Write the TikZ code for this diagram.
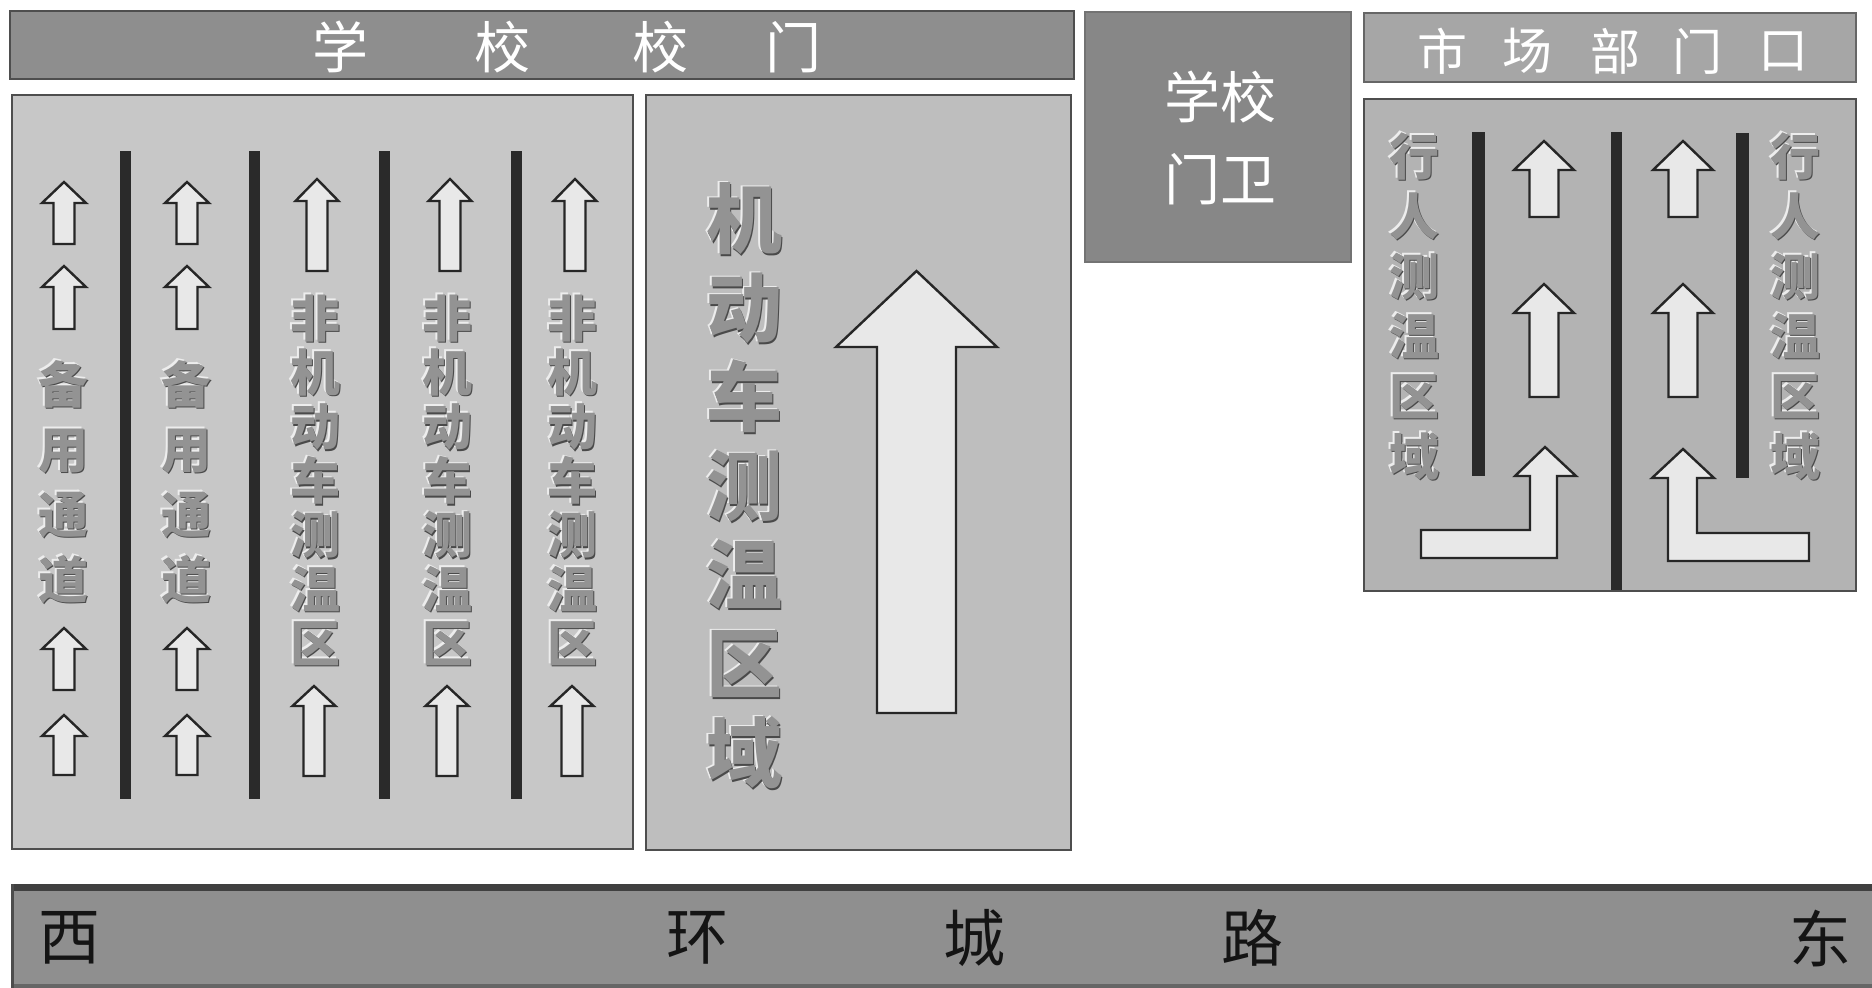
\documentclass[tikz,border=0pt]{standalone}
\usepackage{fontspec}
\newfontfamily\cjk{Noto Sans CJK SC}
\usetikzlibrary{calc}
\definecolor{banA}{HTML}{8E8E8E}
\definecolor{banB}{HTML}{A6A6A6}
\definecolor{guard}{HTML}{878787}
\definecolor{boxL}{HTML}{C7C7C7}
\definecolor{boxM}{HTML}{BEBEBE}
\definecolor{boxR}{HTML}{B3B3B3}
\definecolor{road}{HTML}{8F8F8F}
\definecolor{edge}{HTML}{4E4E4E}
\definecolor{bar}{HTML}{2A2A2A}
\definecolor{arrfill}{HTML}{E8E8E8}
\definecolor{embfg}{HTML}{939393}
\definecolor{embhl}{HTML}{EDEDED}
\definecolor{embdk}{HTML}{4A4A4A}
\newcommand\embtext[5]{%
  \node[embbase,embhi,#4] at (#2-1.6,#3-1.6) {#5};
  \node[embbase,embsh,#4] at (#2+1.6,#3+1.6) {#5};
  \node[embbase,embmain,#4] (#1) at (#2,#3) {#5};
}
\newcommand\myuparrow[7]{% name, cx, tip, headbase, bottom, half head, half shaft
  \draw[arr] (#2,#3) coordinate (#1) -- (#2+#6,#4) -- (#2+#7,#4) -- (#2+#7,#5) -- (#2-#7,#5) -- (#2-#7,#4) -- (#2-#6,#4) -- cycle;
}
\begin{document}
\begin{tikzpicture}[x=1pt,y=-1pt,
  panel/.style={draw=edge,line width=1.6pt},
  barline/.style={fill=bar,draw=none},
  arr/.style={draw=black!85,fill=arrfill,line width=2.4pt,line join=miter},
  embbase/.style={align=center,inner sep=0pt},
  embhi/.style={text=embhl},
  embsh/.style={text=embdk},
  embmain/.style={text=embfg},
  lanefont/.style={font=\cjk\bfseries\fontsize{50}{65}\selectfont},
  nmfont/.style={font=\cjk\bfseries\fontsize{50}{54.2}\selectfont},
  bigfont/.style={font=\cjk\bfseries\fontsize{76}{89}\selectfont},
  pedfont/.style={font=\cjk\bfseries\fontsize{50}{60}\selectfont},
  whitetitle/.style={text=white,inner sep=0pt,font=\cjk\fontsize{56}{60}\selectfont},
  shoptitle/.style={text=white,inner sep=0pt,font=\cjk\fontsize{50}{52}\selectfont},
  roadtext/.style={text=black!92,inner sep=0pt,font=\cjk\fontsize{62}{64}\selectfont}]
\useasboundingbox (0,0) rectangle (1872,988);
\fill[white] (0,0) rectangle (1872,988);

% ---------- top banners and guard ----------
\draw[panel,fill=banA] (10,11) rectangle (1074,79);
\node[whitetitle] (tA) at (340,47) {学};
\node[whitetitle] (tB) at (502,47) {校};
\node[whitetitle] (tC) at (660,47) {校};
\node[whitetitle] (tD) at (793,47) {门};

\draw[draw=black!55,line width=1.4pt,fill=guard] (1085,12) rectangle (1351,262);
\node[whitetitle] (g1) at (1220,97) {学校};
\node[whitetitle] (g2) at (1220,179) {门卫};

\draw[draw=black!60,line width=1.6pt,fill=banB] (1364,13) rectangle (1856,82);
\node[shoptitle] (s1) at (1442,51) {市};
\node[shoptitle] (s2) at (1527,51) {场};
\node[shoptitle] (s3) at (1615,51) {部};
\node[shoptitle] (s4) at (1697,51) {门};
\node[shoptitle] (s5) at (1783,51) {口};

% ---------- left box ----------
\draw[panel,fill=boxL] (12,95) rectangle (633,849);
\foreach \xa/\xb in {120/131,249/260,379/390,511/522}
  \fill[barline] (\xa,151) rectangle (\xb,799);

\foreach \cx/\nm in {64/a,187/b}{
  \myuparrow{\nm1}{\cx}{182}{203}{244}{22}{10.5}
  \myuparrow{\nm2}{\cx}{266}{287}{329}{22}{10.5}
  \myuparrow{\nm3}{\cx}{628}{649}{690}{22}{10.5}
  \myuparrow{\nm4}{\cx}{715}{736}{775}{22}{10.5}
}
\foreach \cx/\nm in {317/c,450/d,575/e}{
  \myuparrow{\nm1}{\cx}{179}{201}{271}{21.5}{10.5}
}
\foreach \cx/\nm in {314/c,447/d,572/e}{
  \myuparrow{\nm2}{\cx}{686}{706}{776}{21.5}{10.5}
}
\embtext{l1}{63}{482}{lanefont}{备\\用\\通\\道}
\embtext{l2}{186}{482}{lanefont}{备\\用\\通\\道}
\embtext{l3}{315}{480}{nmfont}{非\\机\\动\\车\\测\\温\\区}
\embtext{l4}{447}{480}{nmfont}{非\\机\\动\\车\\测\\温\\区}
\embtext{l5}{572}{480}{nmfont}{非\\机\\动\\车\\测\\温\\区}

% ---------- middle box ----------
\draw[panel,fill=boxM] (646,95) rectangle (1071,850);
\embtext{mtext}{744}{486}{bigfont}{机\\动\\车\\测\\温\\区\\域}
\myuparrow{big}{916.5}{271}{347}{713}{80.5}{39.5}

% ---------- right box ----------
\draw[panel,fill=boxR] (1364,99) rectangle (1856,591);
\fill[barline] (1472,132) rectangle (1485,476);
\fill[barline] (1611,132) rectangle (1622,590);
\fill[barline] (1736,133) rectangle (1749,478);
\embtext{p1}{1414}{306}{pedfont}{行\\人\\测\\温\\区\\域}
\embtext{p2}{1795}{306}{pedfont}{行\\人\\测\\温\\区\\域}
\myuparrow{r1}{1544}{141}{170}{217}{30}{14.5}
\myuparrow{r2}{1544}{284}{313}{397}{30}{14.5}
\myuparrow{r3}{1683}{141}{170}{217}{30}{14.5}
\myuparrow{r4}{1683}{284}{313}{397}{30}{14.5}
\draw[arr] (1545,447) coordinate (rL) -- (1576,476) -- (1557,476) -- (1557,558) -- (1421,558) -- (1421,530) -- (1530,530) -- (1530,476) -- (1515,476) -- cycle;
\draw[arr] (1683,449) coordinate (rR) -- (1714,478) -- (1697,478) -- (1697,533) -- (1809,533) -- (1809,561) -- (1668,561) -- (1668,478) -- (1652,478) -- cycle;

% ---------- road ----------
\fill[road] (12,885) rectangle (1872,988);
\fill[black!75] (12,884) rectangle (1872,891);
\fill[black!60] (12,984) rectangle (1872,988);
\fill[black!70] (11,884) rectangle (14,988);
\node[roadtext] (w) at (69,938) {西};
\node[roadtext] (r1t) at (697,938) {环};
\node[roadtext] (r2t) at (974,938) {城};
\node[roadtext] (r3t) at (1252,938) {路};
\node[roadtext] (e) at (1820,938) {东};
\end{tikzpicture}
\end{document}
